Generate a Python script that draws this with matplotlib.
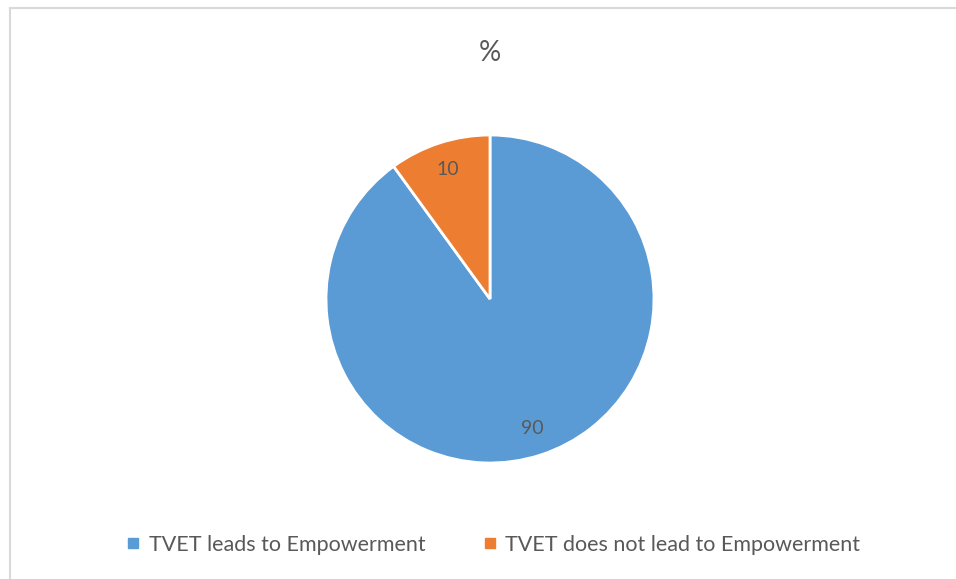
import matplotlib
matplotlib.use("Agg")
import matplotlib.pyplot as plt
from matplotlib.lines import Line2D

# Data
labels = ["TVET leads to Empowerment", "TVET does not lead to Empowerment"]
values = [90, 10]
colors = ["#5B9BD5", "#ED7D31"]
title = "%"

plt.rcParams["font.family"] = ["Lato", "DejaVu Sans"]
text_color = "#595959"

fig = plt.figure(figsize=(9.56, 5.79), dpi=100)

# Pie centred at roughly (490, 299) px, radius ~163 px
ax = fig.add_axes([(490 - 164) / 956, 1 - (299 + 164) / 579, 328 / 956, 328 / 579])
wedges, texts = ax.pie(
    values, colors=colors, startangle=90, counterclock=False,
    labels=[str(v) for v in values], labeldistance=0.83,
    wedgeprops=dict(edgecolor="white", linewidth=2),
    textprops=dict(color=text_color, fontsize=14, ha="center", va="center"),
)
for t in texts:
    t.set_ha("center")
ax.set_xlim(-1, 1)
ax.set_ylim(-1, 1)
ax.set_aspect("equal")

fig.text(490 / 956, 1 - 53 / 579, title, ha="center", va="center",
         fontsize=20, color=text_color)

# Legend along the bottom
handles = [Line2D([0], [0], marker="s", linestyle="", markersize=7,
                  markerfacecolor=c, markeredgecolor=c) for c in colors]
fig.legend(handles, labels, loc="center", bbox_to_anchor=(0.515, 1 - 545 / 579),
           ncol=2, frameon=False, fontsize=15.5, labelcolor=text_color,
           handletextpad=0.3, columnspacing=2.6, handlelength=0.8)

# Chart frame (only top and left edges visible in the reference)
fig.add_artist(Line2D([10 / 956, 1], [1 - 8 / 579, 1 - 8 / 579], color="#D9D9D9", lw=1.5))
fig.add_artist(Line2D([10 / 956, 10 / 956], [0, 1 - 8 / 579], color="#D9D9D9", lw=1.5))

plt.savefig("out.png", dpi=100)
